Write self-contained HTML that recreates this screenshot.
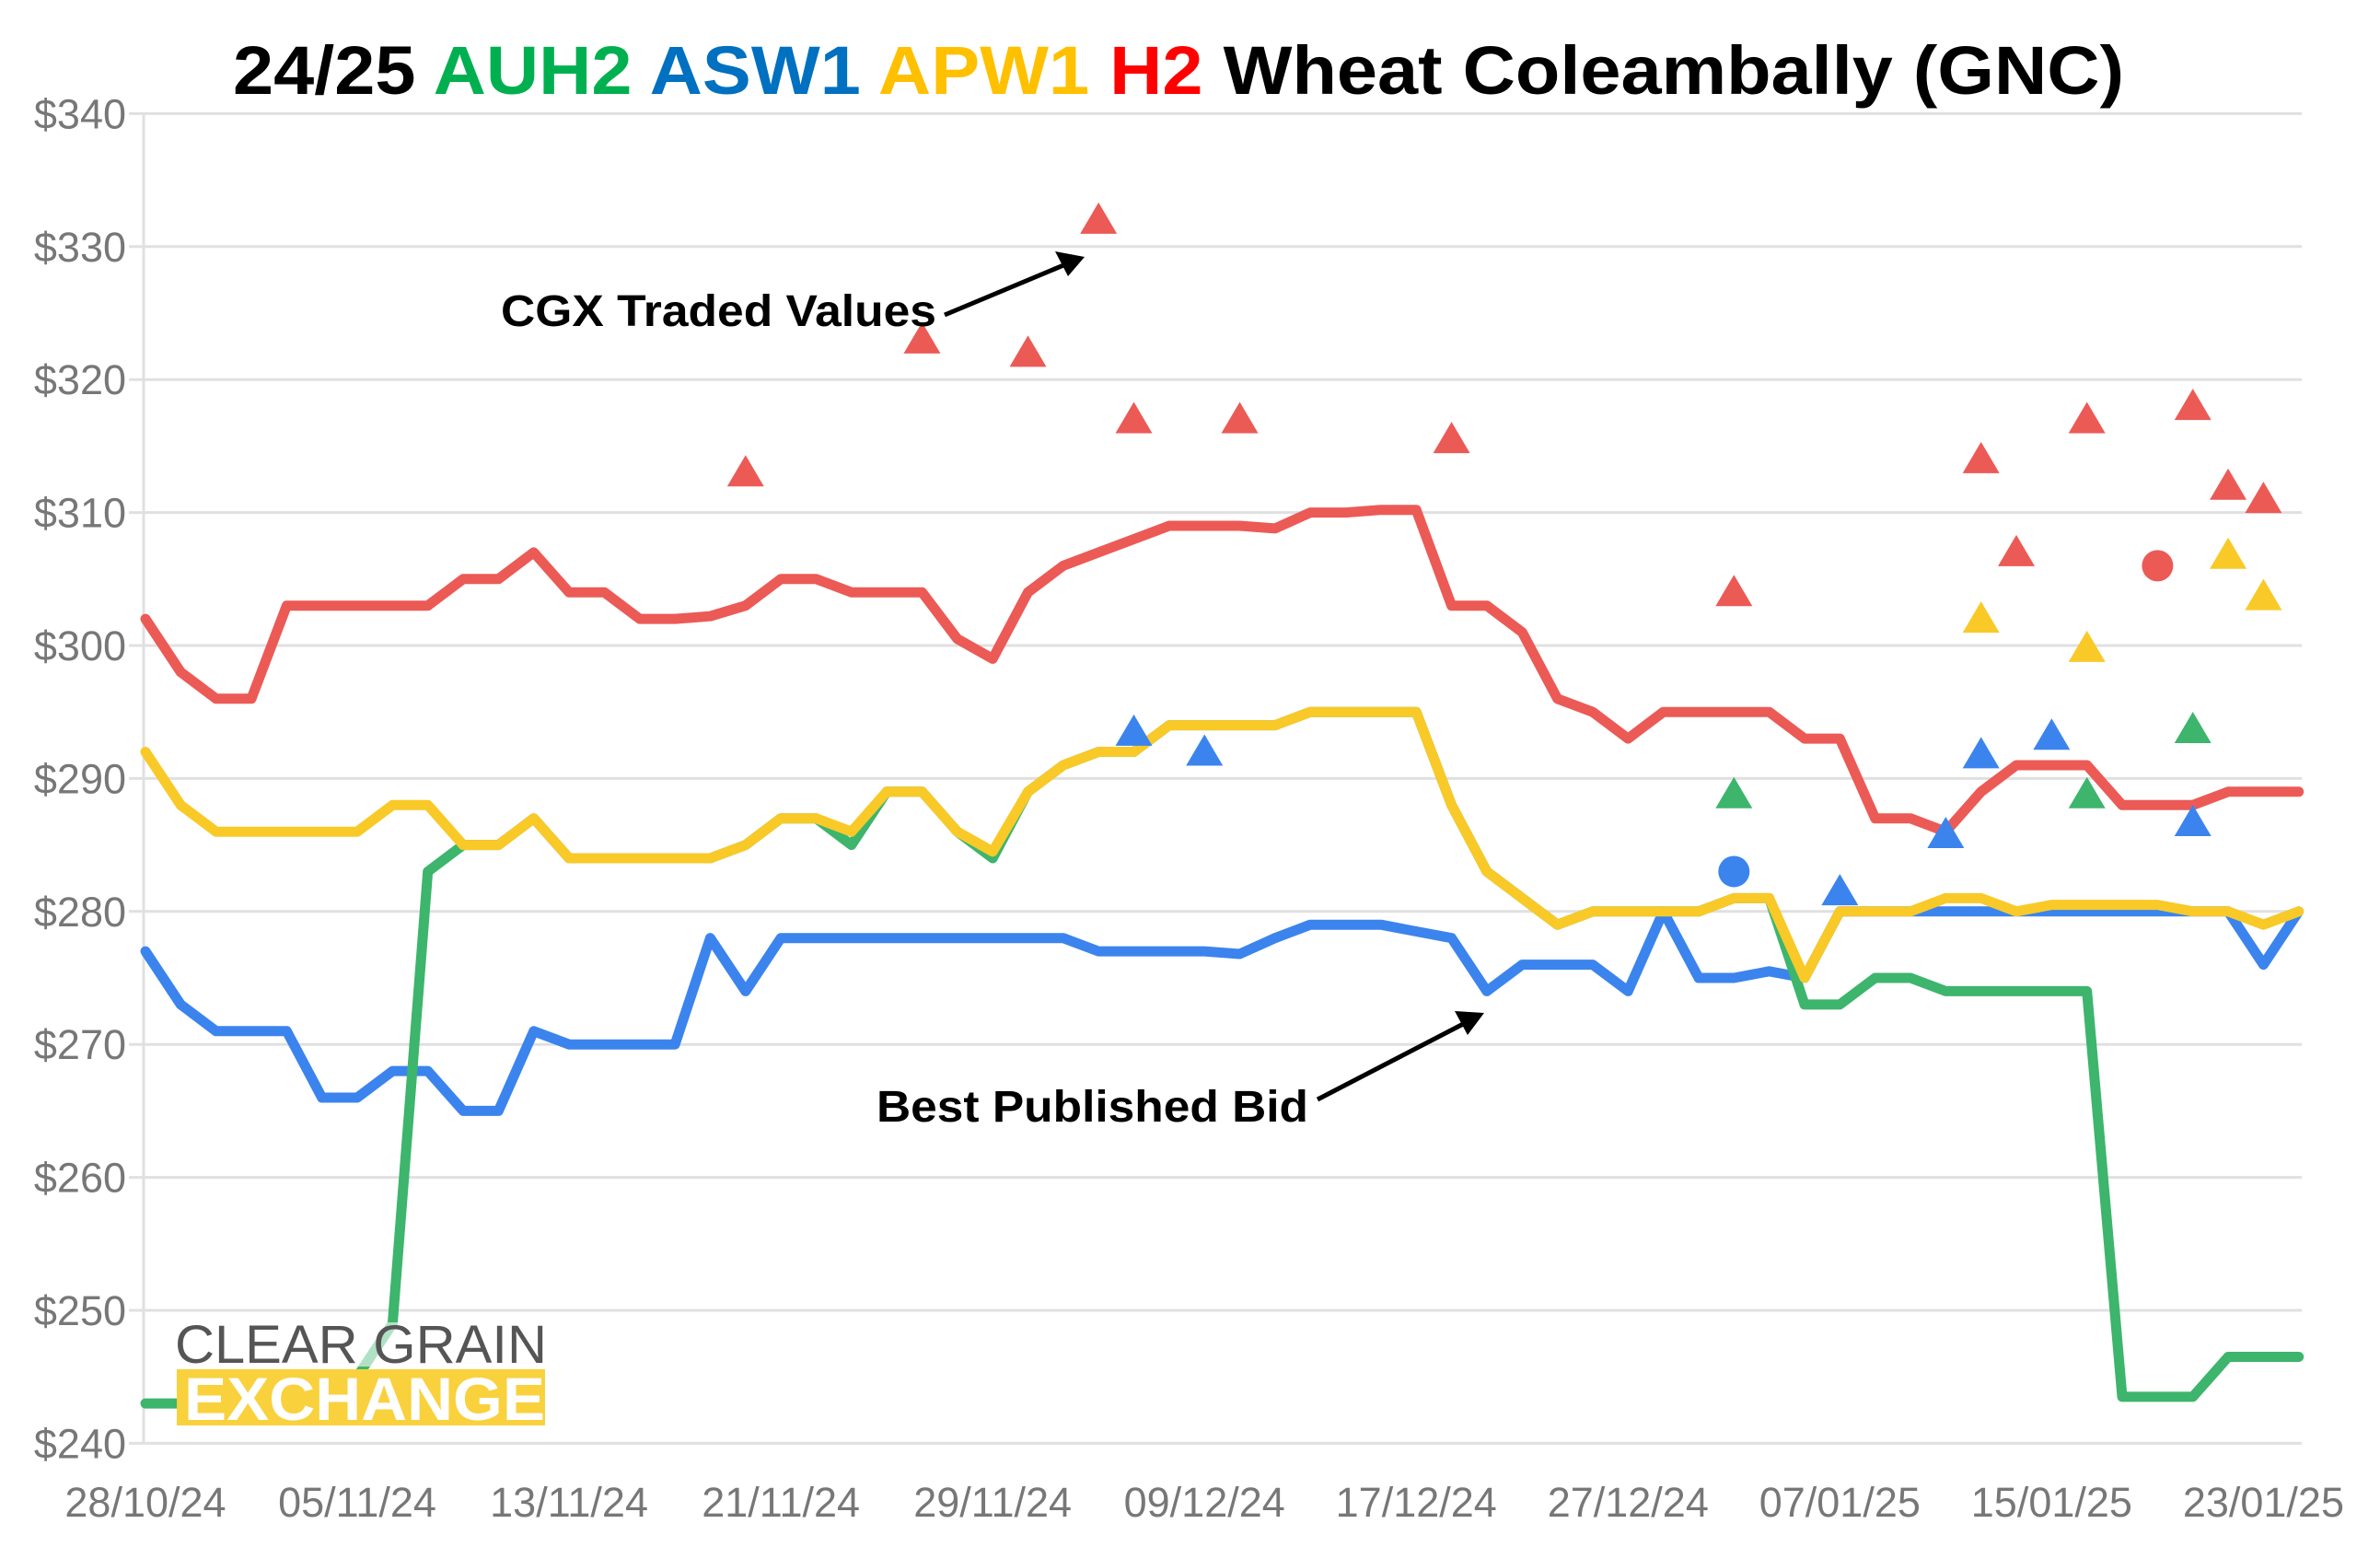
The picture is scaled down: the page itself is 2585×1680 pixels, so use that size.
<!DOCTYPE html>
<html><head><meta charset="utf-8">
<style>
html,body{margin:0;padding:0;background:#fff;}
svg{display:block;}
text{font-family:"Liberation Sans",Arial,sans-serif;}
</style></head>
<body>
<svg id="chart" width="2585" height="1680" viewBox="0 0 2585 1680" xmlns="http://www.w3.org/2000/svg">
<rect width="2585" height="1680" fill="#fff"/>
<text x="1280" y="102" text-anchor="middle" font-size="74" font-weight="bold" fill="#000" textLength="2054" lengthAdjust="spacingAndGlyphs">24/25 <tspan fill="#00B050">AUH2</tspan> <tspan fill="#0070C0">ASW1</tspan> <tspan fill="#FFC000">APW1</tspan> <tspan fill="#FF0000">H2</tspan> Wheat Coleambally (GNC)</text>
<g id="grid"></g>
<g id="ylabels"></g>
<g id="xlabels"></g>
<g id="lines"></g>
<g id="markers"></g>
<g id="logo">
<rect x="192" y="1436" width="400" height="48" fill="#fff" opacity="0.6"/>
<text x="190" y="1480" font-size="58" fill="#555" textLength="404" lengthAdjust="spacingAndGlyphs">CLEAR GRAIN</text>
<rect x="192" y="1487" width="400" height="61" fill="#F9D13D"/>
<text x="200" y="1542" font-size="66" font-weight="bold" fill="#fff" textLength="392" lengthAdjust="spacingAndGlyphs">EXCHANGE</text>
</g>
<g>
<text x="544" y="354" font-size="48" font-weight="bold" fill="#000" textLength="473" lengthAdjust="spacingAndGlyphs">CGX Traded Values</text>
<line x1="1026" y1="342" x2="1160" y2="286" stroke="#000" stroke-width="5"/>
<polygon points="1178,279 1146,273 1160,300" fill="#000"/>
<text x="952" y="1218" font-size="48" font-weight="bold" fill="#000" textLength="469" lengthAdjust="spacingAndGlyphs">Best Published Bid</text>
<line x1="1431" y1="1194" x2="1595" y2="1109" stroke="#000" stroke-width="5"/>
<polygon points="1612,1100 1580,1098 1594,1124" fill="#000"/>
</g>
</svg>
<script>
const yTicks = [240,250,260,270,280,290,300,310,320,330,340];
const xTickLabels = ["28/10/24","05/11/24","13/11/24","21/11/24","29/11/24","09/12/24","17/12/24","27/12/24","07/01/25","15/01/25","23/01/25"];
const h2Bid = [302,298,296,296,303,303,303,303,303,305,305,307,304,304,302,302,302.2,303,305,305,304,304,304,300.5,299,304,306,307,308,309,309,309,308.8,310,310,310.2,310.2,303,303,301,296,295,293,295,295,295,295,293,293,287,287,286,289,291,291,291,288,288,288,289,289,289];
const apw1Bid = [292,288,286,286,286,286,286,288,288,285,285,287,284,284,284,284,284,285,287,287,286,289,289,286,284.5,289,291,292,292,294,294,294,294,295,295,295,295,288,283,281,279,280,280,280,280,281,281,275,280,280,280,281,281,280,280.5,280.5,280.5,280.5,280,280,279,280];
const auh2Bid = [243,243,244,245,245,245,245,249,283,285,285,287,284,284,284,284,284,285,287,287,285,289,289,286,284,289,291,292,292,294,294,294,294,295,295,295,295,288,283,281,279,280,280,280,280,281,281,273,273,275,275,274,274,274,274,274,243.5,243.5,243.5,246.5,246.5,246.5];
const asw1Bid = [277,273,271,271,271,266,266,268,268,265,265,271,270,270,270,270,278,274,278,278,278,278,278,278,278,278,278,277,277,277,277,276.8,278,279,279,279,278.5,278,274,276,276,276,274,280,275,275,275.5,275,280,280,280,280,280,280,280,280,280,280,280,280,276,280];
const h2TradeIdx = [17,22,25,27,28,31,37,45,52,53,55,58,59,60];
const h2TradeVal = [313,323,322,332,317,317,315.5,304,314,307,317,318,312,311];
const h2CircleIdx = [57];
const h2CircleVal = [306];
const asw1TradeIdx = [28,30,48,51,52,54,58];
const asw1TradeVal = [293.5,292,281.5,285.8,291.8,293.2,286.7];
const asw1CircleIdx = [45];
const asw1CircleVal = [283];
const auh2TradeIdx = [45,55,58];
const auh2TradeVal = [288.8,288.8,293.7];
const apw1TradeIdx = [52,55,59,60];
const apw1TradeVal = [302,299.8,306.8,303.7];

const NS = "http://www.w3.org/2000/svg";
function X(i){ return 158 + i*38.34; }
function Y(v){ return 701 - (v-300)*14.44; }
function mk(tag, attrs, parent){ const e=document.createElementNS(NS,tag); for(const k in attrs) e.setAttribute(k,attrs[k]); parent.appendChild(e); return e; }

const grid=document.getElementById('grid'), yl=document.getElementById('ylabels'), xl=document.getElementById('xlabels');
yTicks.forEach(t=>{
  const l=mk('line',{x1:140,x2:2500,y1:Y(t),y2:Y(t),stroke:'#e0e0e0','stroke-width':3},grid);
  
  
  const tx=mk('text',{x:137,y:Y(t)+16,'text-anchor':'end','font-size':45,fill:'#777'},yl);
  tx.textContent='$'+t;
  
  
});
const ax=mk('line',{x1:156,x2:156,y1:Y(340),y2:Y(240),stroke:'#e0e0e0','stroke-width':3},grid);


xTickLabels.forEach((s,k)=>{
  const tx=mk('text',{x:X(k*6),y:1647,'text-anchor':'middle','font-size':45,fill:'#777'},xl);
  tx.textContent=s;
  
  
});

const lines=document.getElementById('lines');
function drawLine(arr,color,name){
  const d=arr.map((v,i)=>(i?'L':'M')+X(i).toFixed(1)+','+Y(v).toFixed(1)).join(' ');
  const p=mk('path',{d:d,fill:'none',stroke:color,'stroke-width':11,'stroke-linejoin':'round','stroke-linecap':'round'},lines);
  
  
}
drawLine(h2Bid,'#EC5A56','h2-bid-line');
drawLine(asw1Bid,'#3B84EE','asw1-bid-line');
drawLine(auh2Bid,'#3DB56C','auh2-bid-line');
drawLine(apw1Bid,'#F9C928','apw1-bid-line');

const markers=document.getElementById('markers');
function tri(idx,vals,color,name){
  idx.forEach((ix,k)=>{
    const x=X(ix), y=Y(vals[k]);
    const p=mk('polygon',{points:`${x},${y-19} ${x-20},${y+15} ${x+20},${y+15}`,fill:color},markers);
    
    
  });
}
function circ(idx,vals,color,name){
  idx.forEach((ix,k)=>{
    const c=mk('circle',{cx:X(ix),cy:Y(vals[k]),r:17,fill:color},markers);
    
    
  });
}
tri(h2TradeIdx,h2TradeVal,'#EC5A56','h2-trade-marker');
circ(h2CircleIdx,h2CircleVal,'#EC5A56','h2-trade-circle');
tri(asw1TradeIdx,asw1TradeVal,'#3B84EE','asw1-trade-marker');
circ(asw1CircleIdx,asw1CircleVal,'#3B84EE','asw1-trade-circle');
tri(auh2TradeIdx,auh2TradeVal,'#3DB56C','auh2-trade-marker');
tri(apw1TradeIdx,apw1TradeVal,'#F9C928','apw1-trade-marker');
</script>
</body></html>
